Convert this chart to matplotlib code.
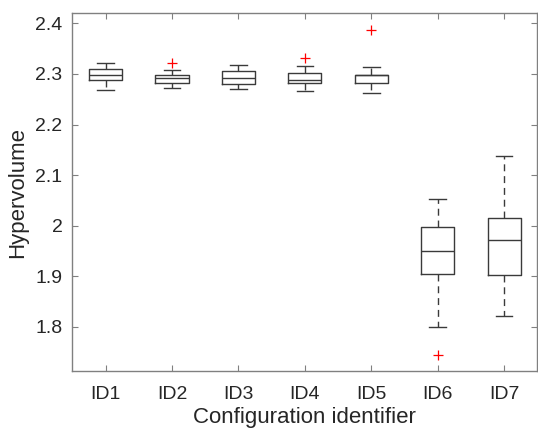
import numpy as np
import matplotlib
matplotlib.use('Agg')
from matplotlib import pyplot as plt

plt.rcParams['font.family'] = ['Liberation Sans', 'DejaVu Sans']

#--data (box stats per configuration)---------------------------------------
labels = ['ID1', 'ID2', 'ID3', 'ID4', 'ID5', 'ID6', 'ID7']
whisker_low = [2.268, 2.272, 2.270, 2.267, 2.263, 1.800, 1.821]
q1 = [2.289, 2.283, 2.281, 2.283, 2.283, 1.904, 1.902]
median = [2.297, 2.293, 2.292, 2.289, 2.297, 1.949, 1.971]
q3 = [2.309, 2.298, 2.306, 2.301, 2.298, 1.997, 2.016]
whisker_high = [2.322, 2.308, 2.318, 2.315, 2.313, 2.052, 2.137]
outliers = [[], [2.322], [], [2.331], [2.387], [1.745], []]

stats = []
for i, lab in enumerate(labels):
    stats.append({'label': lab, 'whislo': whisker_low[i], 'q1': q1[i], 'med': median[i],
                  'q3': q3[i], 'whishi': whisker_high[i], 'fliers': outliers[i]})

#--plot---------------------------------------------------------------------
fig = plt.figure(figsize=(5.38, 4.32), dpi=100)
ax = fig.add_axes([0.1344, 0.1419, 0.8645, 0.8273])

line_col = '#3a3a3a'
ax.bxp(stats, widths=0.5, showfliers=True,
       boxprops=dict(color=line_col, linewidth=1.0),
       medianprops=dict(color=line_col, linewidth=1.0),
       whiskerprops=dict(color=line_col, linewidth=1.0, linestyle=(0, (5, 3.5))),
       capprops=dict(color=line_col, linewidth=1.0),
       flierprops=dict(marker='+', markeredgecolor='red', markersize=7, markeredgewidth=0.9, linestyle='none'))

ax.set_xlim(0.5, 7.5)
ax.set_ylim(1.713, 2.42)
ax.set_yticks([1.8, 1.9, 2.0, 2.1, 2.2, 2.3, 2.4])
ax.set_yticklabels(['1.8', '1.9', '2', '2.1', '2.2', '2.3', '2.4'])

axis_col = '#808080'
for sp in ax.spines.values():
    sp.set_color(axis_col)
    sp.set_linewidth(1.0)
ax.tick_params(direction='in', top=True, right=True, length=4, width=0.8,
               color=axis_col, labelsize=14, labelcolor='#262626', pad=7)
ax.tick_params(axis='x', pad=11)

ax.set_xlabel('Configuration identifier', fontsize=16, color='#262626', labelpad=3)
ax.set_ylabel('Hypervolume', fontsize=16, color='#262626', labelpad=5)

fig.savefig('out.png', dpi=100)
